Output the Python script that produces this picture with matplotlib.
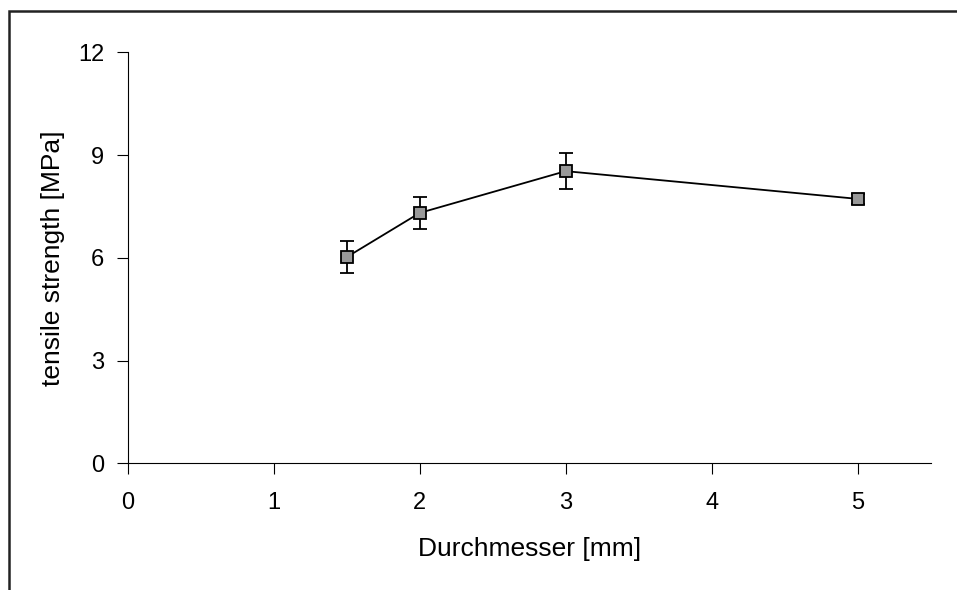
import matplotlib.pyplot as plt
from matplotlib.patches import Rectangle

plt.rcParams['font.family'] = ['Liberation Sans', 'DejaVu Sans']

# Durchmesser [mm] vs. tensile strength [MPa]
diameter = [1.5, 2, 3, 5]
strength = [6.02, 7.31, 8.53, 7.72]
strength_err = [0.47, 0.47, 0.52, 0.14]

xticks = [0, 1, 2, 3, 4, 5]
yticks = [0, 3, 6, 9, 12]

fig = plt.figure(figsize=(9.57, 5.90), dpi=100)
ax = fig.add_axes([127.7 / 957, 1 - 463.3 / 590, (930.7 - 127.7) / 957, (463.3 - 52.3) / 590])

# outer chart border (right/bottom edges fall outside the canvas)
fig.patches.append(Rectangle((8.5 / 957, -0.1), 1.2, 1.1 - 10.5 / 590,
                             transform=fig.transFigure, fill=False,
                             edgecolor='#222222', linewidth=1.8))

ax.errorbar(diameter, strength, yerr=strength_err, color='black', linewidth=1.3,
            marker='s', markersize=9, markerfacecolor='#999999', markeredgecolor='black',
            markeredgewidth=1.3, ecolor='black', elinewidth=1.3, capsize=5.3, capthick=1.3)

ax.set_xlim(0, 5.5)
ax.set_ylim(0, 12)
ax.set_xticks(xticks)
ax.set_yticks(yticks)
ax.tick_params(direction='out', length=8, width=0.8, labelsize=17)
ax.tick_params(axis='x', pad=13)
ax.tick_params(axis='y', pad=9)
for s in ['top', 'right']:
    ax.spines[s].set_visible(False)
for s in ['left', 'bottom']:
    ax.spines[s].set_linewidth(0.8)

ax.set_xlabel('Durchmesser [mm]', fontsize=19, labelpad=16)
ax.set_ylabel('tensile strength [MPa]', fontsize=19, labelpad=9)

fig.savefig('out.png', dpi=100)
